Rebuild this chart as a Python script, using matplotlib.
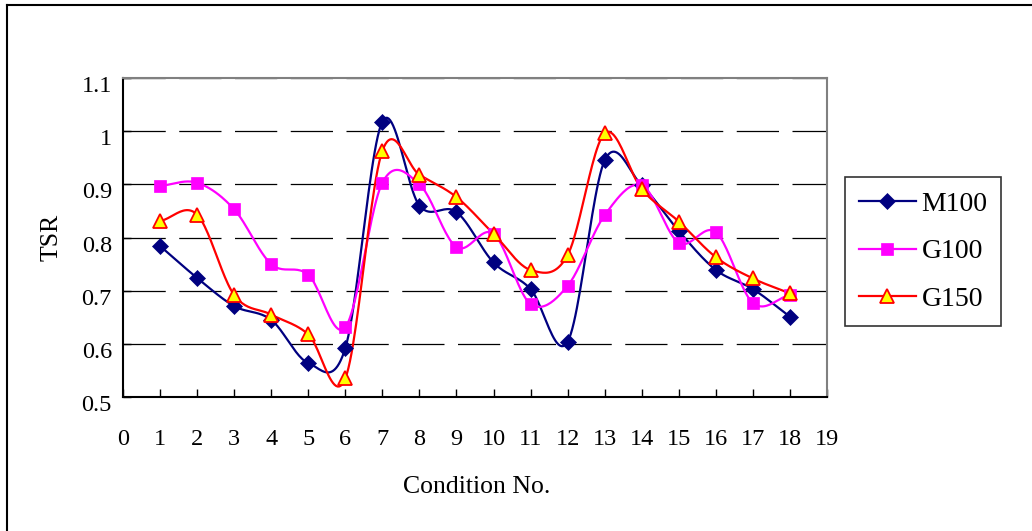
import numpy as np
import matplotlib
matplotlib.use("Agg")
import matplotlib.pyplot as plt
import matplotlib.transforms as mtransforms
from matplotlib.lines import Line2D

# data
conditions = list(range(1, 19))
m100 = [0.784, 0.724, 0.671, 0.645, 0.564, 0.592, 1.018, 0.860, 0.848,
        0.753, 0.703, 0.604, 0.945, 0.898, 0.812, 0.739, 0.703, 0.651]
g100 = [0.897, 0.903, 0.853, 0.750, 0.730, 0.631, 0.903, 0.900, 0.782,
        0.807, 0.675, 0.709, 0.842, 0.898, 0.790, 0.810, 0.677, 0.692]
g150 = [0.831, 0.843, 0.692, 0.655, 0.618, 0.535, 0.963, 0.918, 0.876,
        0.807, 0.739, 0.767, 0.996, 0.891, 0.830, 0.763, 0.723, 0.695]
series_names = ["M100", "G100", "G150"]

plt.rcParams['font.family'] = ['Liberation Serif', 'DejaVu Serif']

W, H = 1032, 531


def smooth(x, y, n=24):
    """Catmull-Rom curve through the points (like Excel's smoothed line)"""
    x = np.asarray(x, float)
    y = np.asarray(y, float)
    px = np.concatenate([[2 * x[0] - x[1]], x, [2 * x[-1] - x[-2]]])
    py = np.concatenate([[2 * y[0] - y[1]], y, [2 * y[-1] - y[-2]]])
    t = np.linspace(0, 1, n, endpoint=False)
    xs, ys = [], []
    for i in range(1, len(px) - 2):
        for p, out in ((px, xs), (py, ys)):
            p0, p1, p2, p3 = p[i - 1], p[i], p[i + 1], p[i + 2]
            out.extend(0.5 * (2 * p1 + (-p0 + p2) * t
                              + (2 * p0 - 5 * p1 + 4 * p2 - p3) * t ** 2
                              + (-p0 + 3 * p1 - 3 * p2 + p3) * t ** 3))
    xs.append(x[-1])
    ys.append(y[-1])
    return np.array(xs), np.array(ys)


fig = plt.figure(figsize=(W / 100, H / 100), dpi=100)
ax = fig.add_axes([123 / W, 1 - 397 / H, (827 - 123) / W, (397 - 78) / H])

styles = [
    dict(color='#000080', marker='D', ms=8.5, mfc='#000080', mec='#000080', mew=0.5),
    dict(color='#FF00FF', marker='s', ms=8.5, mfc='#FF00FF', mec='#FF00FF', mew=0.5),
    dict(color='#FF0000', marker='^', ms=10, mfc='#FFFF00', mec='#FF0000', mew=1.3),
]

for vals, name, st in zip([m100, g100, g150], series_names, styles):
    sx, sy = smooth(conditions, vals)
    ax.plot(sx, sy, color=st['color'], lw=1.6, zorder=3)
    ax.plot(conditions, vals, ls='none', zorder=4, marker=st['marker'],
            ms=st['ms'], mfc=st['mfc'], mec=st['mec'], mew=st['mew'])
    # legend proxy
    ax.plot([], [], label=name, lw=1.6, **st)

ax.set_xlim(0, 19)
ax.set_ylim(0.5, 1.1)
ax.set_xticks(range(0, 20))
ax.set_yticks(np.arange(0.5, 1.101, 0.1))
ax.yaxis.set_major_formatter(matplotlib.ticker.FormatStrFormatter('%g'))

ax.tick_params(axis='x', direction='in', length=6, width=1, labelsize=17.5, pad=23)
ax.tick_params(axis='y', direction='in', length=6, width=1, labelsize=17.5, pad=8)
offset = mtransforms.ScaledTranslation(0, -0.06, fig.dpi_scale_trans)
for lab in ax.get_yticklabels():
    lab.set_transform(lab.get_transform() + offset)

ax.yaxis.grid(True, color='black', lw=0.9, linestyle=(0, (33.8, 10.8)))
ax.set_axisbelow(True)

for s in ['left', 'bottom']:
    ax.spines[s].set_color('black')
    ax.spines[s].set_linewidth(1.5)
for s in ['top', 'right']:
    ax.spines[s].set_color('#808080')
    ax.spines[s].set_linewidth(1.5)

ax.set_ylabel('TSR', fontsize=18.5, labelpad=14)
fig.text(477 / W, 1 - 487 / H, 'Condition No.', fontsize=18.5,
         ha='center', va='center')

leg = fig.legend(loc='center left', bbox_to_anchor=(845 / W, 1 - 251.5 / H),
                 fontsize=20, frameon=True, fancybox=False, handlelength=2.05,
                 labelspacing=0.8, borderpad=0.5, handletextpad=0.2,
                 borderaxespad=0)
leg.get_frame().set_edgecolor('black')
leg.get_frame().set_linewidth(1.2)

# outer chart frame (only left and top edges visible)
fig.add_artist(Line2D([7 / W, 7 / W], [0, 1 - 5 / H], transform=fig.transFigure,
                      color='black', lw=1.5))
fig.add_artist(Line2D([7 / W, 1], [1 - 5 / H, 1 - 5 / H], transform=fig.transFigure,
                      color='black', lw=1.5))

fig.savefig('out.png', dpi=100)
